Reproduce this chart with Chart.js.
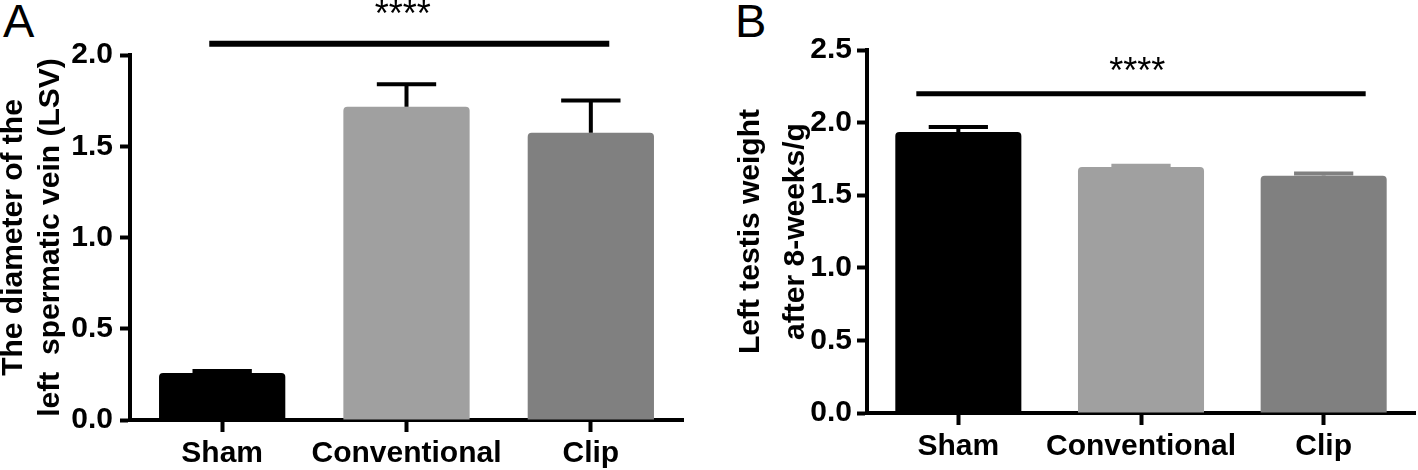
<!DOCTYPE html>
<html>
<head>
<meta charset="utf-8">
<script src="https://cdn.jsdelivr.net/npm/chart.js@4.4.0/dist/chart.umd.min.js"></script>
<style>
  body { margin: 0; background: #fff; width: 1418px; height: 470px; overflow: hidden; position: relative;
         font-family: 'Liberation Sans', Arial, sans-serif; }
  canvas { position: absolute; top: 0; }
  .panel { position: absolute; top: -3px; font-size: 47px; line-height: 1; color: #000; }
</style>
</head>
<body>
<div class="panel" style="left:3px">A</div>
<div class="panel" style="left:735px">B</div>
<canvas id="lsv" width="700" height="470" style="left:0"></canvas>
<canvas id="weight" width="700" height="470" style="left:718px"></canvas>
<script>
// data
const categories = ['Sham', 'Conventional', 'Clip'];
const barColors = ['#000000', '#a0a0a0', '#808080'];

const lsvMean = [0.258, 1.717, 1.574];
const lsvErr = [0.010, 0.123, 0.177];
const lsvTicks = [0, 0.5, 1.0, 1.5, 2.0];

const weightMean = [1.935, 1.695, 1.634];
const weightErr = [0.035, 0.008, 0.016];
const weightTicks = [0, 0.5, 1.0, 1.5, 2.0, 2.5];

const FONT = "'Liberation Sans', Arial, sans-serif";

// error bars (upper only), drawn through the y scale
const errorBars = {
    id: 'errorBars',
    afterDatasetsDraw(chart, args, opts) {
        const meta = chart.getDatasetMeta(0);
        const ys = chart.scales.y;
        const ctx = chart.ctx;
        ctx.save();
        ctx.lineWidth = 4;
        meta.data.forEach((bar, i) => {
            const top = ys.getPixelForValue(opts.mean[i] + opts.err[i]);
            const half = bar.width * 0.235;
            ctx.strokeStyle = opts.colors[i];
            ctx.beginPath();
            ctx.moveTo(bar.x, bar.y);
            ctx.lineTo(bar.x, top);
            ctx.moveTo(bar.x - half, top);
            ctx.lineTo(bar.x + half, top);
            ctx.stroke();
        });
        ctx.restore();
    }
};

// significance line with stars
const sigLine = {
    id: 'sigLine',
    afterDraw(chart, args, opts) {
        const {ctx, scales: {x, y}} = chart;
        const y0 = y.getPixelForValue(opts.y);
        ctx.save();
        ctx.strokeStyle = '#000';
        ctx.lineWidth = opts.width;
        ctx.beginPath();
        ctx.moveTo(x.getPixelForValue(opts.from), y0);
        ctx.lineTo(x.getPixelForValue(opts.to), y0);
        ctx.stroke();
        ctx.fillStyle = '#000';
        ctx.font = '36px ' + FONT;
        ctx.textAlign = 'center';
        ctx.textBaseline = 'alphabetic';
        ctx.fillText(opts.text, x.getPixelForValue(opts.at), y.getPixelForValue(opts.starY));
        ctx.restore();
    }
};

// rotated two-line y title, centred on the plot height
const yTitle = {
    id: 'yTitle',
    afterDraw(chart, args, opts) {
        const {ctx, chartArea} = chart;
        const cy = (chartArea.top + chartArea.bottom) / 2;
        ctx.save();
        ctx.font = 'bold 30px ' + FONT;
        ctx.fillStyle = '#000';
        ctx.textAlign = 'center';
        ctx.textBaseline = 'middle';
        opts.lines.forEach((t, i) => {
            ctx.save();
            ctx.translate(opts.x[i], cy);
            ctx.rotate(-Math.PI / 2);
            ctx.fillText(t, 0, 0);
            ctx.restore();
        });
        ctx.restore();
    }
};

function renderPanel(id, p) {
    const ctx = document.getElementById(id).getContext('2d');
    return new Chart(ctx, {
        type: 'bar',
        data: {
            labels: categories,
            datasets: [{
                data: p.mean,
                backgroundColor: barColors,
                borderWidth: 0,
                borderRadius: {topLeft: 4, topRight: 4},
                borderSkipped: 'start',
                categoryPercentage: 1,
                barPercentage: p.barPct
            }]
        },
        options: {
            responsive: false,
            animation: false,
            events: [],
            layout: { padding: { top: p.top, right: p.right, left: 0, bottom: 0 } },
            plugins: {
                legend: { display: false },
                tooltip: { enabled: false },
                errorBars: { mean: p.mean, err: p.err, colors: p.errColors },
                sigLine: p.sig,
                yTitle: { lines: p.title, x: p.titleX }
            },
            scales: {
                x: {
                    grid: { display: true, drawOnChartArea: false, drawTicks: true, offset: false,
                            tickLength: 12, tickWidth: 4, color: '#000' },
                    border: { display: true, width: 4, color: '#000' },
                    ticks: { color: '#000', padding: p.xPad, maxRotation: 0, autoSkip: false,
                             font: { family: FONT, size: 30, weight: 'bold' } },
                    afterFit(scale) { scale.height = p.xHeight; }
                },
                y: {
                    min: 0,
                    max: p.ticks[p.ticks.length - 1],
                    afterBuildTicks(scale) { scale.ticks = p.ticks.map(v => ({value: v})); },
                    grid: { display: true, drawOnChartArea: false, drawTicks: true,
                            tickLength: 10, tickWidth: 4, color: '#000' },
                    border: { display: true, width: 4, color: '#000' },
                    ticks: { color: '#000', padding: p.yPad,
                             font: { family: FONT, size: 30, weight: 'bold' },
                             callback: v => Number(v).toFixed(1) },
                    afterFit(scale) { scale.width = p.yWidth; }
                }
            }
        },
        plugins: [errorBars, sigLine, yTitle]
    });
}

renderPanel('lsv', {
    mean: lsvMean, err: lsvErr, ticks: lsvTicks,
    errColors: ['#000', '#000', '#000'],
    title: ['The diameter of the', 'left  spermatic vein (LSV)'],
    titleX: [14, 51],
    top: 55, right: 17, yWidth: 130, xHeight: 50, yPad: 7, xPad: 4, barPct: 0.685,
    sig: { from: -0.07, to: 2.1, y: 2.062, at: 0.98, starY: 2.16, text: '****', width: 6 }
});

renderPanel('weight', {
    mean: weightMean, err: weightErr, ticks: weightTicks,
    errColors: barColors,
    title: ['Left testis weight', 'after 8-weeks/g'],
    titleX: [33, 78],
    top: 50, right: 3, yWidth: 149, xHeight: 57, yPad: 5, xPad: 4, barPct: 0.69,
    sig: { from: -0.23, to: 2.23, y: 2.198, at: 0.98, starY: 2.27, text: '****', width: 5 }
});
</script>
</body>
</html>
